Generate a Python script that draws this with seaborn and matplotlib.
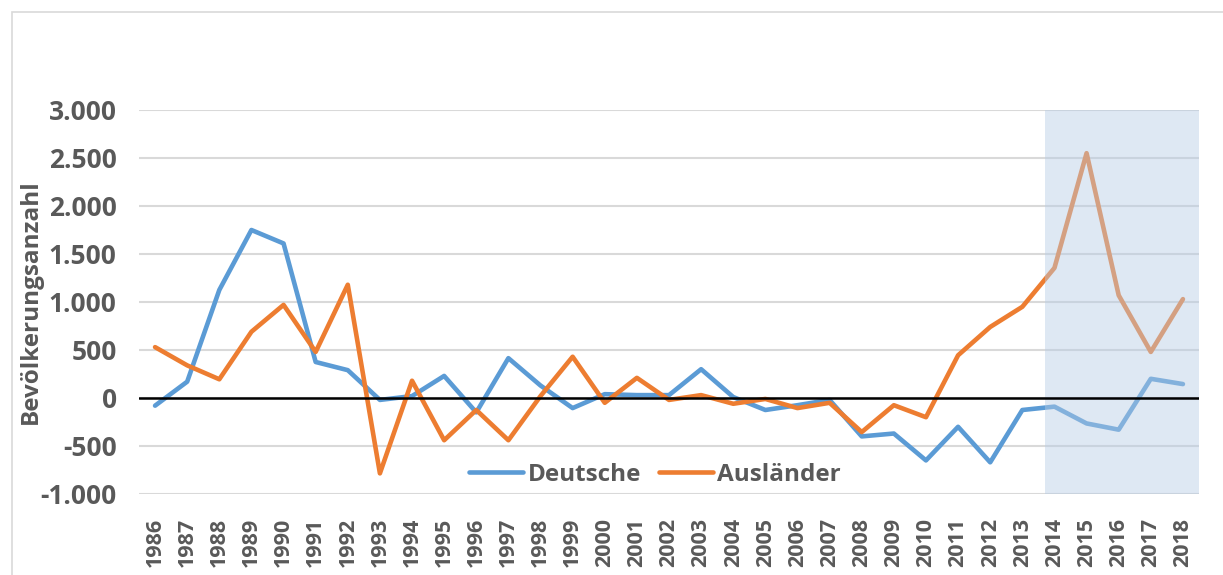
import matplotlib
matplotlib.use("Agg")
import matplotlib.pyplot as plt
import matplotlib.ticker as mticker
import pandas as pd
import seaborn as sns

# ─── Data ─────────────────────────────────────────────────────────────────────

years = list(range(1986, 2019))
deutsche = [-80, 170, 1125, 1750, 1610, 375, 290, -20, 20, 230, -150, 415, 130,
            -105, 40, 30, 30, 300, 10, -125, -75, -20, -400, -370, -650, -300,
            -670, -125, -90, -265, -330, 200, 145]
auslaender = [530, 340, 195, 690, 970, 480, 1180, -785, 180, -440, -125, -440, 20,
              430, -50, 210, -20, 30, -60, -10, -105, -50, -355, -75, -200, 445,
              740, 950, 1355, 2550, 1070, 480, 1030]
series_names = ["Deutsche", "Ausländer"]
y_ticks = [-1000, -500, 0, 500, 1000, 1500, 2000, 2500, 3000]
shade_from, shade_to = 2013.7, 2018.5

df = pd.DataFrame({
    "Jahr": years * 2,
    "Wert": deutsche + auslaender,
    "Gruppe": [series_names[0]] * len(years) + [series_names[1]] * len(years),
})

# ─── Plot ─────────────────────────────────────────────────────────────────────

sns.set_style("white")
plt.rcParams["font.family"] = ["Open Sans", "DejaVu Sans"]
plt.rcParams["font.weight"] = "bold"

text_col = "#595959"
fig = plt.figure(figsize=(12.23, 5.75), dpi=100)
ax = fig.add_axes([139 / 1223, 1 - 494 / 575, 1060 / 1223, 384 / 575])

# outer chart frame
fig.patches.append(plt.Rectangle((12 / 1223, -0.1), 1.2, 1 - 12 / 575 + 0.1,
                                 transform=fig.transFigure, fill=False,
                                 edgecolor="#D9D9D9", linewidth=1.2))

sns.lineplot(data=df, x="Jahr", y="Wert", hue="Gruppe", ax=ax,
             palette={"Deutsche": "#5B9BD5", "Ausländer": "#ED7D31"},
             linewidth=3.3, zorder=3, legend=True)

ax.axvspan(shade_from, shade_to, color="#B6CCE5", alpha=0.45, lw=0, zorder=4)
ax.axhline(0, color="black", linewidth=1.8, zorder=5)

ax.set_xlim(1985.5, 2018.5)
ax.set_ylim(-1000, 3000)
ax.set_yticks(y_ticks)
ax.yaxis.set_major_formatter(mticker.FuncFormatter(lambda v, p: f"{int(v):,}".replace(",", ".")))
ax.set_xticks(years)
ax.set_xticklabels([str(y) for y in years], rotation=90)
ax.tick_params(axis="y", labelsize=19, colors=text_col, length=0, pad=16)
ax.tick_params(axis="x", labelsize=15.5, colors=text_col, length=0, pad=17)
ax.grid(axis="y", color="#D9D9D9", linewidth=1.5, zorder=0)
ax.grid(axis="x", visible=False)
for s in ax.spines.values():
    s.set_visible(False)

ax.set_xlabel("")
ax.set_ylabel("Bevölkerungsanzahl", fontsize=17.5, color=text_col,
              fontweight="bold", labelpad=-2)

ax.legend(loc="center", bbox_to_anchor=(0.487, 0.05), ncol=2, frameon=False,
          fontsize=17.5, handlelength=2.2, columnspacing=0.75, handletextpad=0.2,
          labelcolor=text_col, title=None)

plt.savefig("out.png", dpi=100)
